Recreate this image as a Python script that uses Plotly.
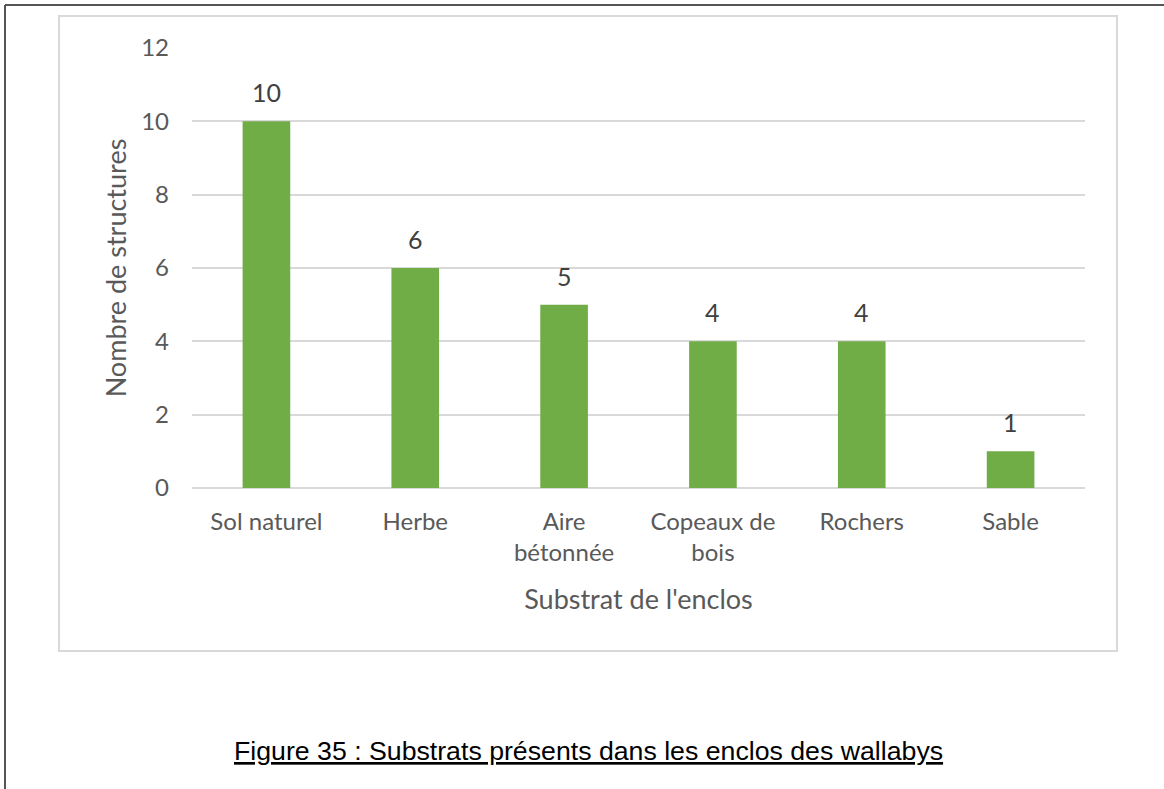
import plotly.graph_objects as go

# data
categories = ["Sol naturel", "Herbe", "Aire<br>bétonnée", "Copeaux de<br>bois", "Rochers", "Sable"]
counts = [10, 6, 5, 4, 4, 1]
y_ticks = [0, 2, 4, 6, 8, 10, 12]

x_title = "Substrat de l'enclos"
y_title = "Nombre de structures"
caption = "Figure 35 : Substrats présents dans les enclos des wallabys"

W, H = 1164, 789
# plot area in pixels
PL, PR, PT, PB = 192, 1085, 48, 488


def px_x(x):
    return (x - PL) / (PR - PL)


def px_y(y):
    return (PB - y) / (PB - PT)


FONT = "Lato, Calibri, sans-serif"
GREY = "#595959"
GRID = "#d9d9d9"

fig = go.Figure()
fig.add_trace(go.Bar(
    x=categories, y=counts,
    marker=dict(color="#70ad47", line=dict(width=0)),
    width=0.32,
    hoverinfo="x+y",
))

# value labels above bars
for c, v in zip(categories, counts):
    fig.add_annotation(x=c, y=v, text=str(v), showarrow=False,
                       yanchor="bottom", yshift=12,
                       font=dict(family=FONT, size=25, color="#404040"))

shapes = [
    # chart frame
    dict(type="rect", xref="paper", yref="paper",
         x0=px_x(59), x1=px_x(1117), y0=px_y(651), y1=px_y(16),
         line=dict(color=GRID, width=2), fillcolor="rgba(0,0,0,0)", layer="below"),
    # page border (left + top)
    dict(type="line", xref="paper", yref="paper",
         x0=px_x(5), x1=px_x(5), y0=px_y(5), y1=px_y(800),
         line=dict(color="#555555", width=2)),
    dict(type="line", xref="paper", yref="paper",
         x0=px_x(5), x1=px_x(1200), y0=px_y(5), y1=px_y(5),
         line=dict(color="#555555", width=2)),
]

fig.add_annotation(xref="paper", yref="paper", x=px_x(588), y=px_y(751),
                   xanchor="center", yanchor="middle",
                   text="<u>" + caption + "</u>", showarrow=False,
                   font=dict(family="Liberation Sans, Arial, sans-serif", size=26.7, color="#000000"))

fig.update_layout(
    width=W, height=H,
    margin=dict(l=PL, r=W - PR, t=PT, b=H - PB),
    paper_bgcolor="white", plot_bgcolor="white",
    showlegend=False,
    shapes=shapes,
    font=dict(family=FONT, color=GREY),
)
fig.update_yaxes(
    range=[0, 12], tickvals=y_ticks,
    showgrid=True, gridcolor=GRID, gridwidth=1.5,
    zeroline=True, zerolinecolor=GRID, zerolinewidth=1.5,
    showline=False, ticks="",
    tickfont=dict(family=FONT, size=24, color=GREY),
    ticklabelstandoff=22,
    title=dict(text=y_title, font=dict(family=FONT, size=27, color=GREY), standoff=6),
)
fig.update_xaxes(
    showgrid=False, showline=False, ticks="",
    tickfont=dict(family=FONT, size=24, color=GREY),
    ticklabelstandoff=17,
    title=dict(text=x_title, font=dict(family=FONT, size=27, color=GREY), standoff=24),
)

# drop the browser's default body margin so pixel positions line up
fig.write_html("out.html", config={"displayModeBar": False},
               post_script="document.body.style.margin='0';")
